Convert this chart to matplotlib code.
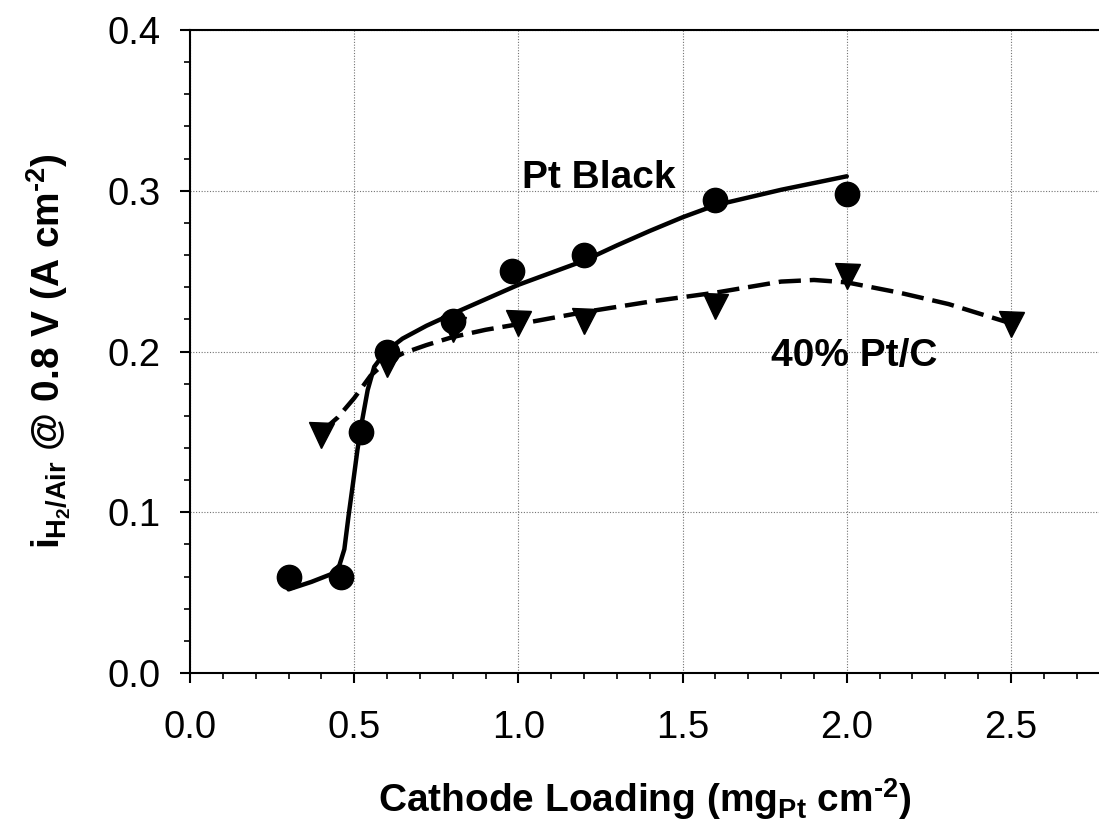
import matplotlib
matplotlib.use("Agg")
import matplotlib.pyplot as plt
from matplotlib.ticker import MultipleLocator

# measured points
pt_black_x = [0.30, 0.46, 0.52, 0.60, 0.80, 0.98, 1.20, 1.60, 2.00]
pt_black_y = [0.060, 0.060, 0.150, 0.200, 0.219, 0.250, 0.260, 0.294, 0.298]

ptc_x = [0.40, 0.60, 0.80, 1.00, 1.20, 1.60, 2.00, 2.50]
ptc_y = [0.148, 0.192, 0.214, 0.218, 0.219, 0.228, 0.247, 0.217]

# fitted curves
fit_black_x = [0.30, 0.37, 0.43, 0.455, 0.47, 0.483, 0.497, 0.51, 0.525, 0.541, 0.561,
               0.596, 0.647, 0.72, 0.80, 0.90, 1.00, 1.10, 1.20, 1.30, 1.40, 1.50,
               1.60, 1.80, 2.00]
fit_black_y = [0.052, 0.0567, 0.0615, 0.067, 0.077, 0.098, 0.119, 0.139, 0.158, 0.176, 0.1905,
               0.200, 0.208, 0.216, 0.2235, 0.2325, 0.2415, 0.249, 0.2565, 0.266, 0.275, 0.2835,
               0.291, 0.3006, 0.309]

fit_ptc_x = [0.40, 0.45, 0.50, 0.55, 0.60, 0.65, 0.72, 0.80, 0.90, 1.00, 1.20, 1.40,
             1.60, 1.80, 1.90, 2.00, 2.16, 2.31, 2.50]
fit_ptc_y = [0.150, 0.159, 0.171, 0.185, 0.194, 0.199, 0.204, 0.209, 0.2135, 0.217, 0.2245, 0.231,
             0.2366, 0.2435, 0.2445, 0.243, 0.2366, 0.2295, 0.2175]

x_ticks = [0.0, 0.5, 1.0, 1.5, 2.0, 2.5]
y_ticks = [0.0, 0.1, 0.2, 0.3, 0.4]

plt.rcParams['font.family'] = ['Liberation Sans', 'DejaVu Sans']
plt.rcParams['mathtext.fontset'] = 'custom'
plt.rcParams['mathtext.rm'] = 'Liberation Sans:bold'
plt.rcParams['mathtext.it'] = 'Liberation Sans:bold'
plt.rcParams['mathtext.bf'] = 'Liberation Sans:bold'

fig = plt.figure(figsize=(10.99, 8.27), dpi=100)
ax = fig.add_axes([190 / 1099, 1 - 673 / 827, 909 / 1099, 643 / 827])

# fit lines
ax.plot(fit_black_x, fit_black_y, color='black', lw=3.2, solid_capstyle='round', zorder=3)
ax.plot(fit_ptc_x, fit_ptc_y, color='black', lw=3.2, dashes=(5, 2), zorder=3)

# data markers
ax.plot(pt_black_x, pt_black_y, 'o', color='black', ms=17.5, zorder=4)
ax.plot(ptc_x, ptc_y, 'v', color='black', ms=18, zorder=4)

ax.text(1.011, 0.3017, 'Pt Black', fontsize=28, fontweight='bold', ha='left', va='baseline')
ax.text(1.77, 0.1912, '40% Pt/C', fontsize=28, fontweight='bold', ha='left', va='baseline')

ax.set_xlim(0, 2.768)
ax.set_ylim(0, 0.4)
ax.set_xticks(x_ticks)
ax.set_yticks(y_ticks)
ax.set_xticklabels([f"{v:.1f}" for v in x_ticks])
ax.set_yticklabels([f"{v:.1f}" for v in y_ticks])
ax.xaxis.set_minor_locator(MultipleLocator(0.1))
ax.yaxis.set_minor_locator(MultipleLocator(0.02))

ax.tick_params(which='major', direction='out', length=7, width=1.5, labelsize=27.5)
ax.tick_params(which='minor', direction='out', length=4, width=1.2)
ax.tick_params(axis='x', which='major', pad=20)
ax.tick_params(axis='y', which='major', pad=14)

ax.grid(True, which='major', color='0.45', lw=0.8, linestyle=(0, (1, 1.5)))
ax.set_axisbelow(True)

ax.spines['right'].set_visible(False)
for s in ['left', 'bottom', 'top']:
    ax.spines[s].set_linewidth(1.5)

ax.set_xlabel('Cathode Loading (mg$_{Pt}$ cm$^{\u20102}$)', fontsize=28, fontweight='bold')
ax.set_ylabel('$i_{H_2/Air}$ @ 0.8 V (A cm$^{\u20102}$)', fontsize=28, fontweight='bold')
ax.xaxis.set_label_coords(0.5, -0.16)
ax.yaxis.set_label_coords(-0.129, 0.5)

fig.savefig('out.png', dpi=100)
